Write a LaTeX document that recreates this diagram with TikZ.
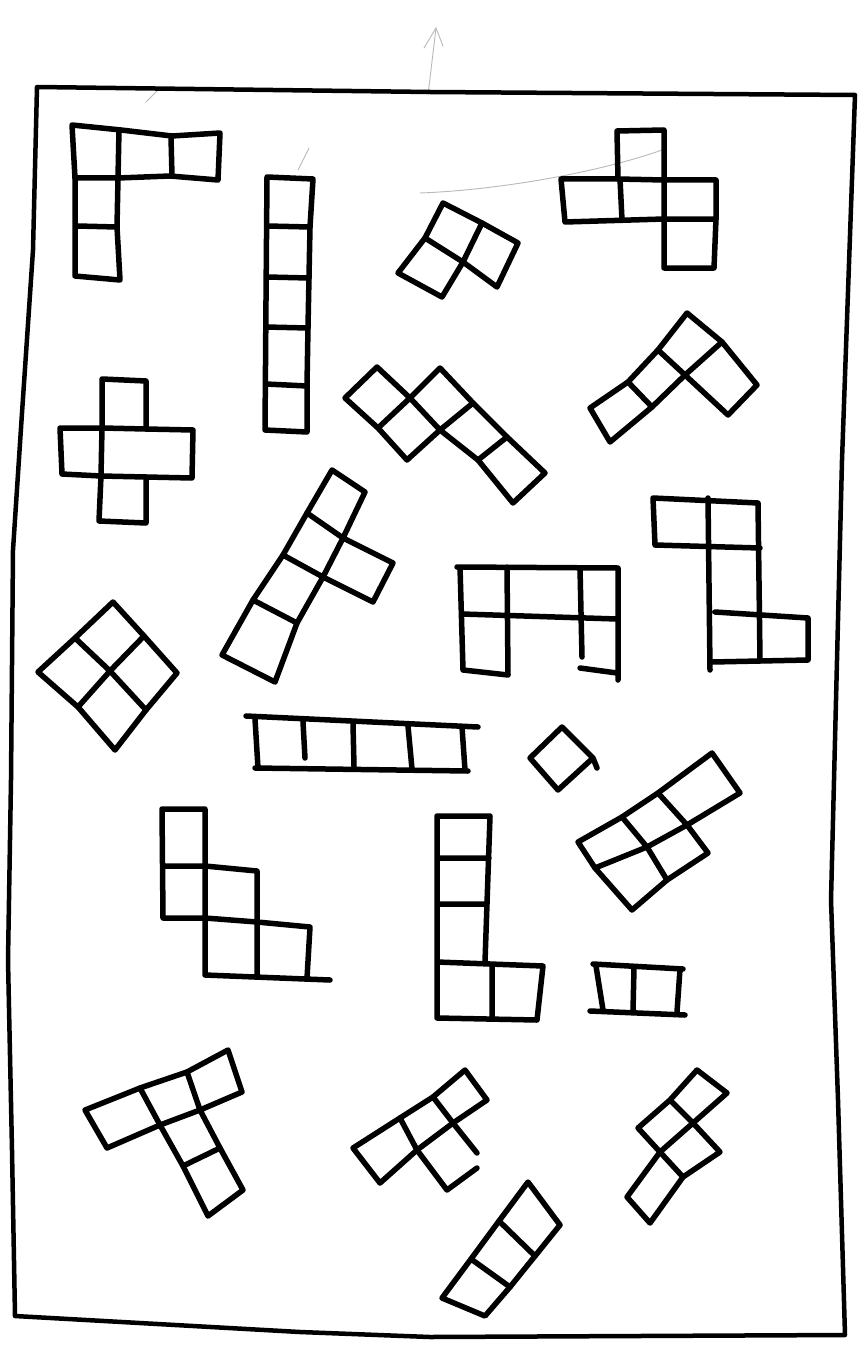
\documentclass[tikz,border=0pt]{standalone}
\begin{document}
\begin{tikzpicture}[x=1pt,y=-1pt,
  pc/.style={line width=5.5pt, line cap=round, line join=round, black},
  frame/.style={line width=4.5pt, line cap=round, line join=round, black},
  faint/.style={line width=0.9pt, gray!55, line cap=round}]
\useasboundingbox (0,0) rectangle (861,1351);
\fill[white] (0,0) rectangle (861,1351);
% faint pencil marks
\draw[faint] (428,95) -- (436,28);
\draw[faint] (424,48) -- (436,28) -- (443,46);
\draw[faint] (420,193) .. controls (500,190) and (600,172) .. (662,150);
\draw[faint] (146,102) -- (158,90);
\draw[faint] (298,170) -- (309,148);
% frame
\draw[frame] (37,87) -- (430,92) -- (855,95) -- (842,460) -- (836,700) -- (831,900) -- (838,1100) -- (845,1335)
  -- (430,1337) -- (300,1332) -- (15,1316) -- (12,1150) -- (8,960) -- (11,780) -- (13,550) -- (22,413) -- (33,250) -- cycle;
% V pentomino
\draw[pc] (72,125) -- (121,130) -- (172,136) -- (220,133) -- (218,180) -- (170,176) -- (118,178) -- (117,227) -- (120,280) -- (75,276) -- (75,178) -- cycle;
\draw[pc] (75,178) -- (118,178) (119,130) -- (118,178) (171,137) -- (172,176) (77,226) -- (117,227);
% I pentomino
\draw[pc] (267,177) -- (313,179) -- (310,227) -- (309,277) -- (308,327) -- (307,385) -- (307,432) -- (265,430) -- (266,300) -- cycle;
\draw[pc] (267,226) -- (310,227) (267,277) -- (309,278) (266,327) -- (308,328) (266,384) -- (307,386);
% X pentomino
\draw[pc] (102,379) -- (146,381) -- (146,429) -- (193,430) -- (192,478) -- (146,477) -- (146,523) -- (99,521) -- (101,476) -- (62,474) -- (60,428) -- (102,428) -- cycle;
\draw[pc] (102,428) -- (146,429) (101,476) -- (146,477) (102,428) -- (101,476);
% F pentomino
\draw[pc] (617,131) -- (664,130) -- (664,180) -- (716,180) -- (716,219) -- (714,268) -- (664,268) -- (664,219) -- (565,222) -- (561,179) -- (618,179) -- cycle;
\draw[pc] (618,179) -- (664,180) (620,179) -- (622,220) (664,180) -- (664,219) -- (716,219);
% L tromino
\draw[pc] (443,203) -- (482,223) -- (518,243) -- (497,287) -- (463,262) -- (442,297) -- (398,273) -- (425,238) -- cycle;
\draw[pc] (425,238) -- (463,262) (482,223) -- (463,262);
% N pentomino
\draw[pc] (345,398) -- (377,367) -- (410,398) -- (440,368) -- (473,403) -- (507,437) -- (545,473) -- (513,503) -- (478,460) -- (440,430) -- (407,460) -- (378,428) -- cycle;
\draw[pc] (410,398) -- (378,428) (410,398) -- (440,430) (473,403) -- (440,430) (507,437) -- (478,460);
% L tetromino
\draw[pc] (687,313) -- (722,342) -- (757,385) -- (728,415) -- (685,375) -- (652,407) -- (610,442) -- (590,408) -- (628,382) -- (658,350) -- cycle;
\draw[pc] (658,350) -- (685,375) -- (722,342) (628,382) -- (652,407);
% Y pentomino
\draw[pc] (332,470) -- (365,492) -- (343,538) -- (393,563) -- (373,602) -- (323,577) -- (297,623) -- (275,682) -- (222,655) -- (253,600) -- (283,555) -- (307,513) -- cycle;
\draw[pc] (307,513) -- (343,538) (283,555) -- (323,577) (253,600) -- (297,623) (343,538) -- (323,577);
% O tetromino
\draw[pc] (113,602) -- (144,636) -- (177,673) -- (146,710) -- (115,750) -- (78,707) -- (38,672) -- (75,638) -- cycle;
\draw[pc] (75,638) -- (110,671) -- (146,710) (144,636) -- (110,671) -- (78,707);
% I tetromino
\draw[pc] (246,716) -- (478,727) (255,768) -- (468,771) (255,719) -- (258,768)
  (303,722) -- (305,758) (353,724) -- (354,766) (408,726) -- (412,769) (462,727) -- (465,770);
% U pentomino
\draw[pc] (457,567) -- (618,568) -- (618,680) (462,614) -- (617,619) (460,567) -- (463,670) -- (508,675)
  (507,567) -- (508,675) (580,568) -- (582,657) (580,668) -- (617,673);
% Z pentomino
\draw[pc] (653,498) -- (758,503) -- (760,660) (653,498) -- (655,545) -- (760,548) (708,498) -- (710,670)
  (715,612) -- (808,618) -- (808,660) -- (712,662);
% monomino
\draw[pc] (562,727) -- (593,758) -- (558,790) -- (530,758) -- cycle (593,758) -- (597,768);
% P pentomino
\draw[pc] (578,842) -- (622,817) -- (658,793) -- (712,753) -- (740,793) -- (687,825) -- (708,853) -- (667,880) -- (632,910) -- (595,868) -- cycle;
\draw[pc] (595,868) -- (647,847) -- (687,825) (622,817) -- (647,847) -- (667,880) (658,793) -- (687,825);
% W pentomino
\draw[pc] (162,809) -- (205,809) -- (205,866) -- (257,871) -- (257,922) -- (310,927) -- (307,978)
  (205,975) -- (330,980) (162,809) -- (163,918) -- (205,918) -- (205,975)
  (163,866) -- (205,866) (205,866) -- (205,918) -- (257,922) -- (257,975);
% L pentomino
\draw[pc] (437,816) -- (490,816) -- (485,962) (437,816) -- (437,1018) -- (537,1020) -- (543,966) -- (437,962)
  (437,858) -- (489,858) (437,904) -- (487,904) (492,966) -- (492,1018);
% domino
\draw[pc] (593,964) -- (683,969) (590,1011) -- (685,1015) (596,966) -- (603,1010) (634,968) -- (633,1011) (680,969) -- (677,1012);
% T pentomino
\draw[pc] (85,1110) -- (140,1088) -- (187,1072) -- (228,1050) -- (242,1092) -- (200,1110) -- (220,1148) -- (243,1190) -- (208,1216) -- (183,1166) -- (160,1125) -- (107,1148) -- cycle;
\draw[pc] (140,1088) -- (160,1125) -- (200,1110) -- (187,1072) (183,1166) -- (220,1148);
% T tetromino
\draw[pc] (353,1148) -- (400,1118) -- (433,1097) -- (465,1070) -- (487,1100) -- (453,1123) -- (417,1150) -- (380,1183) -- cycle;
\draw[pc] (400,1118) -- (417,1150) -- (447,1190) -- (477,1168) (433,1097) -- (453,1123) -- (477,1153);
% I tromino
\draw[pc] (528,1182) -- (560,1225) -- (535,1256) -- (510,1287) -- (485,1316) -- (442,1298) -- (471,1259) -- (499,1221) -- cycle;
\draw[pc] (499,1221) -- (535,1256) (471,1259) -- (510,1287);
% S tetromino
\draw[pc] (697,1070) -- (727,1093) -- (693,1123) -- (720,1152) -- (683,1177) -- (650,1223) -- (627,1197) -- (660,1152) -- (638,1128) -- (670,1100) -- cycle;
\draw[pc] (670,1100) -- (693,1123) -- (660,1152) -- (683,1177);
\end{tikzpicture}
\end{document}
